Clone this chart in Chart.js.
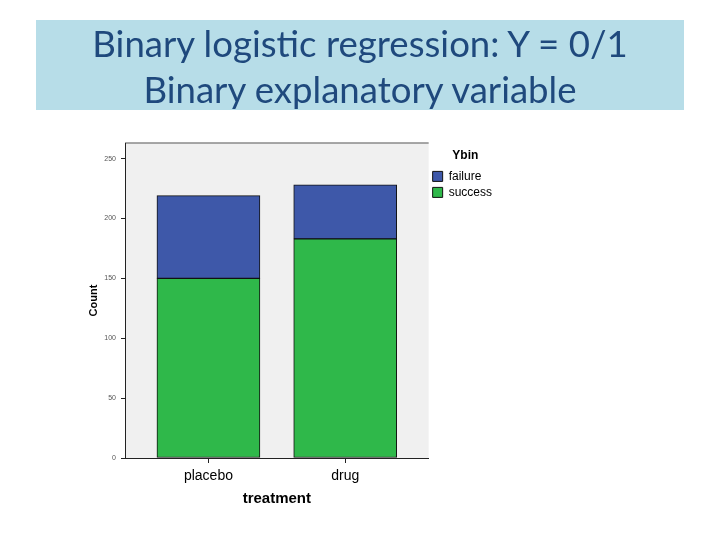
<!DOCTYPE html>
<html>
<head>
<meta charset="utf-8">
<script src="https://cdn.jsdelivr.net/npm/chart.js@4"></script>
<style>
  html, body { margin: 0; padding: 0; background: #fff; }
  #wrap { position: relative; width: 720px; height: 540px; }
  #title {
    position: absolute; left: 36px; top: 20px; width: 648px; height: 90px;
    background: #b7dde8; color: #1f497d;
    font-family: Lato, "Open Sans", sans-serif; font-size: 36.6px; line-height: 46px;
    text-align: center; box-sizing: border-box; padding-top: 0px;
  }
  canvas { position: absolute; left: 0; top: 0; }
</style>
</head>
<body>
<div id="wrap">
  <canvas id="c" width="720" height="540"></canvas>
  <div id="title">Binary logistic regression: Y = 0/1<br>Binary explanatory variable</div>
</div>
<script>
const categories = ['placebo', 'drug'];
const successCounts = [150, 183];
const failureCounts = [69, 45];
const yTicks = [0, 50, 100, 150, 200, 250];
const legendTitle = 'Ybin';
const xTitle = 'treatment';
const yTitle = 'Count';

const toPoints = arr => arr.map((v, i) => ({ x: i, y: v }));

const plotBg = {
  id: 'plotBg',
  beforeDraw(chart) {
    const { ctx, chartArea: a } = chart;
    ctx.save();
    ctx.fillStyle = '#f0f0f0';
    ctx.fillRect(a.left, a.top, a.right - a.left, a.bottom - a.top);
    ctx.strokeStyle = '#8a8a8a';
    ctx.lineWidth = 1.5;
    ctx.beginPath();
    ctx.moveTo(a.left, a.top);
    ctx.lineTo(a.right, a.top);
    ctx.stroke();
    ctx.restore();
  }
};

new Chart(document.getElementById('c'), {
  type: 'bar',
  data: {
    datasets: [
      { label: 'success', data: toPoints(successCounts), backgroundColor: '#2fb84a', borderColor: '#111', borderWidth: 1, borderSkipped: false, barThickness: 103 },
      { label: 'failure', data: toPoints(failureCounts), backgroundColor: '#3e58a9', borderColor: '#111', borderWidth: 1, borderSkipped: false, barThickness: 103 }
    ]
  },
  options: {
    responsive: false,
    animation: false,
    devicePixelRatio: 1,
    layout: { padding: { left: 80, top: 143, right: 218, bottom: 32 } },
    plugins: {
      tooltip: { enabled: false },
      legend: {
        position: 'right',
        align: 'start',
        reverse: true,
        title: { display: true, text: legendTitle, color: '#000', font: { family: 'Arial, Liberation Sans', size: 12, weight: 'bold' }, padding: { top: 7, bottom: 2 } },
        labels: { boxWidth: 10, boxHeight: 10, padding: 4, color: '#000', font: { family: 'Arial, Liberation Sans', size: 12 } }
      }
    },
    scales: {
      x: {
        type: 'linear',
        stacked: true,
        offset: false,
        min: -0.61,
        max: 1.61,
        afterBuildTicks: s => { s.ticks = categories.map((c, i) => ({ value: i })); },
        afterFit: s => { s.height = 50; },
        ticks: { callback: v => categories[v], color: '#000', padding: 5, maxRotation: 0, font: { family: 'Arial, Liberation Sans', size: 14 } },
        grid: { display: true, offset: false, drawOnChartArea: false, drawTicks: true, tickLength: 5, color: '#222' },
        border: { display: true, color: '#222', width: 1 },
        title: { display: true, text: xTitle, color: '#000', font: { family: 'Arial, Liberation Sans', size: 15, weight: 'bold' }, padding: { top: 0, bottom: 0 } }
      },
      y: {
        stacked: true,
        min: 0,
        max: 263,
        afterBuildTicks: s => { s.ticks = yTicks.map(v => ({ value: v })); },
        afterFit: s => { s.width = 45; },
        ticks: { color: '#555', padding: 5, font: { family: 'Arial, Liberation Sans', size: 7 } },
        grid: { display: true, drawOnChartArea: false, drawTicks: true, tickLength: 4, color: '#222' },
        border: { display: true, color: '#222', width: 1 },
        title: { display: true, text: yTitle, color: '#000', font: { family: 'Arial, Liberation Sans', size: 11, weight: 'bold' }, padding: { top: 7, bottom: 0 } }
      }
    }
  },
  plugins: [plotBg]
});
</script>
</body>
</html>
